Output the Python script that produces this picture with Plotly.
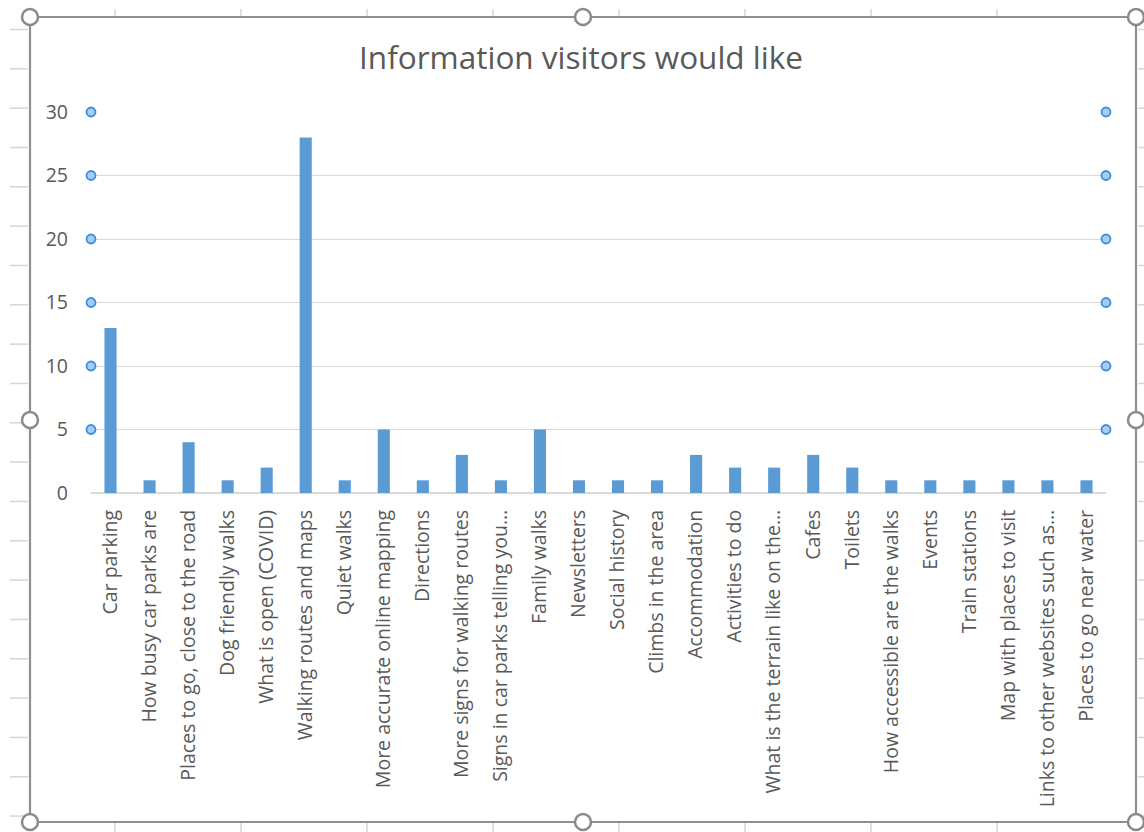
import plotly.graph_objects as go

categories = [
    "Car parking", "How busy car parks are", "Places to go, close to the road",
    "Dog friendly walks", "What is open (COVID)", "Walking routes and maps",
    "Quiet walks", "More accurate online mapping", "Directions",
    "More signs for walking routes", "Signs in car parks telling you…",
    "Family walks", "Newsletters", "Social history", "Climbs in the area",
    "Accommodation", "Activities to do", "What is the terrain like on the…",
    "Cafes", "Toilets", "How accessible are the walks", "Events",
    "Train stations", "Map with places to visit",
    "Links to other websites such as…", "Places to go near water",
]
values = [13, 1, 4, 1, 2, 28, 1, 5, 1, 3, 1, 5, 1, 1, 1, 3, 2, 2, 3, 2, 1, 1, 1, 1, 1, 1]
y_ticks = [0, 5, 10, 15, 20, 25, 30]
title_text = "Information visitors would like"

W, H = 1144, 832
L, R, T, B = 91, 38, 112, 339
PW, PH = W - L - R, H - T - B
FONT = "Open Sans"
GREY = "#595959"
Y_MAX = 30


def px(x):
    return (x - L) / PW


def py(y):
    return 1 - (y - T) / PH


fig = go.Figure()
fig.add_trace(go.Bar(x=categories, y=values, marker=dict(color="#5b9bd5", line=dict(width=0)),
                     width=0.31, hoverinfo="x+y"))

shapes = []
# spreadsheet gridline stubs outside the chart
for k in range(21):
    yy = 29.5 + 39.33 * k
    shapes.append(dict(type="line", xref="paper", yref="paper", x0=px(10), x1=px(28), y0=py(yy), y1=py(yy),
                       line=dict(color="#d6d6d6", width=1.5)))
    shapes.append(dict(type="line", xref="paper", yref="paper", x0=px(1138), x1=px(1144), y0=py(yy), y1=py(yy),
                       line=dict(color="#d6d6d6", width=1.5)))
for k in range(8):
    xx = 115 + 126 * k
    shapes.append(dict(type="line", xref="paper", yref="paper", x0=px(xx), x1=px(xx), y0=py(9), y1=py(16),
                       line=dict(color="#d6d6d6", width=1.5)))
    shapes.append(dict(type="line", xref="paper", yref="paper", x0=px(xx), x1=px(xx), y0=py(823), y1=py(832),
                       line=dict(color="#d6d6d6", width=1.5)))
# chart frame
shapes.append(dict(type="rect", xref="paper", yref="paper", x0=px(30), x1=px(1136), y0=py(17), y1=py(822),
                   line=dict(color="#8f8f8f", width=2.2), fillcolor="rgba(0,0,0,0)"))
# selection handles
for hx, hy in [(30, 17), (583, 17), (1136, 17), (30, 420), (1136, 420), (30, 822), (583, 822), (1136, 822)]:
    shapes.append(dict(type="circle", xref="paper", yref="paper", xsizemode="pixel", ysizemode="pixel",
                       xanchor=px(hx), yanchor=py(hy), x0=-8, x1=8, y0=-8, y1=8,
                       line=dict(color="#8a8a8a", width=2.5), fillcolor="white"))
# gridline selection markers (paper coords so they are not clipped)
for v in y_ticks[1:]:
    for ax in (0, 1):
        shapes.append(dict(type="circle", xref="paper", yref="paper", xsizemode="pixel", ysizemode="pixel",
                           xanchor=ax, yanchor=v / Y_MAX, x0=-4.5, x1=4.5, y0=-4.5, y1=4.5,
                           line=dict(color="#3b8ee0", width=1.8), fillcolor="#a9cdf0"))

fig.update_layout(
    width=W, height=H,
    margin=dict(l=L, r=R, t=T, b=B, pad=0),
    paper_bgcolor="white", plot_bgcolor="white",
    font=dict(family=FONT, color=GREY, size=19.5),
    title=dict(text=title_text, x=581 / W, xanchor="center", y=1 - 58 / H, yanchor="middle",
               font=dict(family=FONT, size=31.5, color=GREY)),
    showlegend=False,
    bargap=0.69,
    shapes=shapes,
    xaxis=dict(type="category", tickangle=-90, showgrid=False, showline=False, ticks="",
               ticklabelstandoff=12, automargin=False, tickfont=dict(size=19.5, color=GREY),
               range=[-0.5, len(categories) - 0.5]),
    yaxis=dict(range=[0, Y_MAX], tickvals=y_ticks, showgrid=True, gridcolor="#d9d9d9", gridwidth=1,
               zeroline=True, zerolinecolor="#d9d9d9", zerolinewidth=1.5, showline=False, ticks="",
               ticklabelstandoff=22, automargin=False, tickfont=dict(size=19.5, color=GREY)),
)

fig.write_html("out.html", config={"displayModeBar": False},
               post_script="document.body.style.margin='0';document.body.style.padding='0';")
